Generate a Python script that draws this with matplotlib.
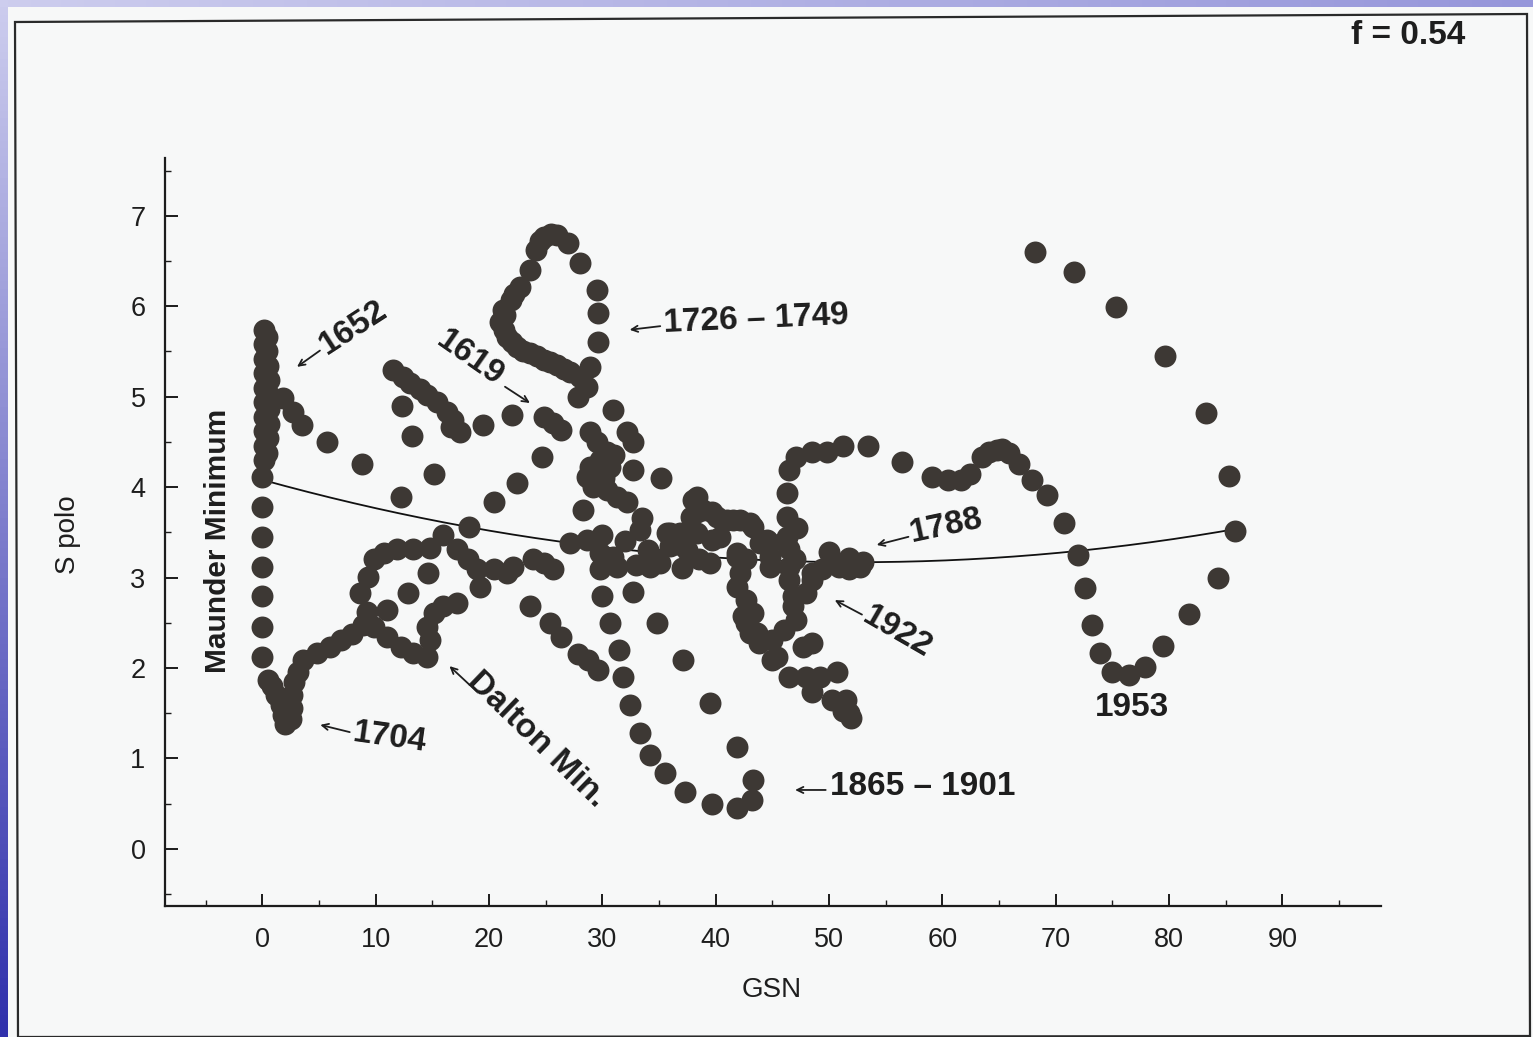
import numpy as np
import matplotlib
matplotlib.use("Agg")
import matplotlib.pyplot as plt
from matplotlib.patches import Rectangle, Polygon
from matplotlib.ticker import FixedLocator

plt.rcParams['font.family'] = ['Liberation Sans', 'DejaVu Sans']

# ---------------------------------------------------------------------------
# Data: group sunspot number (GSN) against polar field index (S polo)
# ---------------------------------------------------------------------------
maunder_gsn = [0.1, 0.4, 0.1, 0.4, 0.1, 0.5, 0.1, 0.6, 0.1, 0.6, 0.1, 0.6, 0.1, 0.6,
               0.1, 0.5, 0.1, 0.4, 0.1, 0.0, 0.0, 0.0, 0.0, 0.0, 0.0, 0.0, 0.5,
               0.8, 1.2, 1.6, 1.85, 2.0, 2.5, 2.65, 2.65, 2.75, 3.1,
               3.6, 4.85, 6.0, 6.9, 7.9, 8.9]
maunder_spolo = [5.74, 5.66, 5.58, 5.50, 5.42, 5.34, 5.26, 5.18, 5.10, 5.02, 4.94, 4.86, 4.78, 4.70,
                 4.62, 4.54, 4.46, 4.38, 4.30, 4.11, 3.78, 3.45, 3.12, 2.79, 2.45, 2.12, 1.87,
                 1.80, 1.70, 1.59, 1.48, 1.38, 1.43, 1.56, 1.70, 1.84, 1.96,
                 2.09, 2.17, 2.23, 2.31, 2.37, 2.48]

tail1652_gsn = [1.85, 2.7, 3.5, 5.7, 8.8]
tail1652_spolo = [4.99, 4.83, 4.69, 4.50, 4.25]

dalton_gsn = [9.25, 9.8, 11.0, 12.2, 13.3, 14.5, 14.8, 14.5, 15.1, 15.9, 17.2, 12.8, 14.6, 11.0,
              8.6, 9.3, 9.8, 10.7, 11.9, 13.3, 14.8, 15.9, 17.2, 18.1, 18.9, 19.2, 20.4, 21.6,
              22.1, 23.9, 23.6, 25.4, 26.3, 27.8, 28.7, 29.6]
dalton_spolo = [2.62, 2.45, 2.34, 2.23, 2.17, 2.12, 2.31, 2.45, 2.61, 2.68, 2.72, 2.83, 3.05, 2.64,
                2.83, 3.01, 3.20, 3.27, 3.31, 3.31, 3.33, 3.47, 3.31, 3.20, 3.09, 2.90, 3.09, 3.05,
                3.12, 3.20, 2.68, 2.50, 2.34, 2.15, 2.09, 1.98]

upper_gsn = [11.5, 12.4, 13.0, 13.9, 14.5, 15.4, 16.3, 16.8, 16.6, 17.4, 19.5, 22.0, 12.3, 13.2,
             15.1, 12.2, 18.2, 20.4, 22.5, 24.7, 24.8, 25.6, 26.3]
upper_spolo = [5.30, 5.22, 5.15, 5.08, 5.02, 4.94, 4.83, 4.74, 4.67, 4.61, 4.69, 4.80, 4.90, 4.56,
               4.14, 3.89, 3.56, 3.83, 4.05, 4.33, 4.77, 4.71, 4.63]

loop1726_gsn = [24.8, 25.5, 26.0, 27.0, 28.0, 29.5, 29.6, 29.6, 28.9, 28.0, 28.6, 27.8,
                24.5, 24.1, 23.6, 22.7, 22.2, 21.9, 21.2, 21.4, 21.0, 21.3, 21.6, 22.0,
                22.5, 23.0, 23.6, 24.2, 24.8, 25.4, 26.0, 26.6, 27.1]
loop1726_spolo = [6.77, 6.80, 6.79, 6.70, 6.48, 6.18, 5.93, 5.61, 5.33, 5.22, 5.11, 5.00,
                  6.72, 6.62, 6.40, 6.21, 6.14, 6.07, 5.96, 5.90, 5.83, 5.74, 5.66, 5.60,
                  5.55, 5.51, 5.48, 5.45, 5.41, 5.38, 5.35, 5.31, 5.27]

central_gsn = [30.9, 28.9, 32.2, 32.7, 30.4, 29.8, 28.9, 28.6, 29.2, 30.4, 31.3, 32.2, 30.7, 32.7,
               35.2, 28.3, 33.5, 33.3, 27.1, 28.6, 30.0, 29.8, 30.9, 29.8, 31.3, 33.0, 34.2, 35.1,
               35.7, 36.8, 38.3, 38.3, 39.7, 41.0, 42.1, 43.3, 38.3, 39.7, 40.4, 39.5, 41.9, 42.7,
               43.9, 44.8, 24.8, 25.6, 30.0, 32.7, 30.7, 34.8, 31.5, 31.8, 37.1, 39.5,
               29.5, 30.1, 31.0, 32.0, 34.0, 36.0, 37.5, 38.5, 37.0, 38.0, 38.9, 40.1, 41.5, 43.0,
               36.0, 34.8, 37.8, 41.9, 44.5, 44.8]
central_spolo = [4.85, 4.61, 4.61, 4.50, 4.39, 4.30, 4.22, 4.11, 4.00, 3.97, 3.89, 3.83, 4.22, 4.19,
                 4.10, 3.75, 3.66, 3.53, 3.38, 3.42, 3.47, 3.27, 3.23, 3.09, 3.12, 3.14, 3.12, 3.16,
                 3.49, 3.49, 3.89, 3.72, 3.72, 3.64, 3.64, 3.56, 3.49, 3.42, 3.45, 3.16, 3.27, 3.20,
                 3.38, 3.38, 3.16, 3.09, 2.79, 2.84, 2.50, 2.50, 2.20, 1.90, 2.09, 1.61,
                 4.50, 4.10, 4.35, 3.40, 3.30, 3.35, 3.30, 3.20, 3.10, 3.86, 3.75, 3.67, 3.64, 3.60,
                 3.49, 3.20, 3.67, 3.23, 3.42, 3.23]

cycle1865_gsn = [32.4, 33.3, 34.2, 35.5, 37.3, 39.7, 41.9, 43.2, 43.3, 41.9]
cycle1865_spolo = [1.59, 1.28, 1.04, 0.84, 0.63, 0.49, 0.45, 0.54, 0.76, 1.12]

cluster1922_gsn = [46.3, 46.3, 46.3, 46.5, 46.5, 46.5, 46.8, 47.2, 47.0,
                   44.8, 42.1, 41.9, 42.7, 43.3, 42.7, 43.6, 45.0, 45.0, 47.1, 46.8, 48.0,
                   48.5, 50.9, 52.1, 52.7, 47.7, 48.5, 46.5, 48.0, 49.2, 50.7, 48.5, 50.3,
                   51.5, 51.8, 51.9, 51.2, 50.0, 51.8, 53.0, 51.8, 49.4,
                   43.8, 45.4, 46.0, 48.5, 42.4, 43.0]
cluster1922_spolo = [3.94, 3.67, 3.45, 3.31, 3.12, 2.97, 2.79, 3.55, 3.20,
                     3.12, 3.05, 2.90, 2.75, 2.61, 2.50, 2.39, 2.31, 2.09, 2.53, 2.68, 2.83,
                     2.97, 3.12, 3.16, 3.12, 2.23, 2.28, 1.90, 1.90, 1.90, 1.95, 1.73, 1.65,
                     1.65, 1.50, 1.45, 1.52, 3.28, 3.22, 3.17, 3.09, 3.09,
                     2.28, 2.12, 2.42, 3.05, 2.57, 2.39]

modern_gsn = [46.5, 47.1, 48.5, 49.8, 51.2, 53.4, 56.4, 59.1, 60.5, 61.6, 62.4, 63.5, 64.1, 64.8,
              65.3, 65.9, 66.8, 67.9, 69.2, 70.7, 72.0, 72.6, 73.2, 73.9, 75.0, 76.5, 77.9, 79.5,
              81.8, 84.3, 85.8, 85.3, 83.3, 79.6, 75.3, 71.6, 68.2]
modern_spolo = [4.19, 4.33, 4.39, 4.39, 4.46, 4.45, 4.28, 4.11, 4.08, 4.08, 4.14, 4.33, 4.39, 4.41,
                4.42, 4.38, 4.25, 4.08, 3.91, 3.60, 3.25, 2.88, 2.48, 2.17, 1.96, 1.92, 2.01, 2.24,
                2.60, 3.00, 3.51, 4.12, 4.82, 5.45, 5.99, 6.38, 6.60]

# Quadratic regression of S polo on GSN (highest power first)
fit_coeffs = [0.00033, -0.03467, 4.08]
fit_gsn_range = (0.0, 85.8)
fit_label = "f = 0.54"

# Period labels: text, GSN, S polo, rotation
period_labels = [
    ("1652", 8.0, 5.76, 33),
    ("1619", 18.3, 5.43, -35),
    ("1726 \u2013 1749", 43.6, 5.85, 2.5),
    ("1788", 60.3, 3.57, 12),
    ("1922", 56.0, 2.39, -30),
    ("Dalton Min.", 24.2, 1.21, -44),
    ("1704", 11.2, 1.23, -8),
    ("1865 \u2013 1901", 58.3, 0.69, 0),
    ("1953", 76.7, 1.56, 0),
]
# Pointer arrows: (tail GSN, tail S), (head GSN, head S)
pointer_arrows = [
    ((5.07, 5.51), (3.05, 5.33)),
    ((21.4, 5.11), (23.6, 4.93)),
    ((35.1, 5.78), (32.4, 5.74)),
    ((57.0, 3.45), (54.2, 3.36)),
    ((52.9, 2.59), (50.5, 2.75)),
    ((18.3, 1.81), (16.5, 2.02)),
    ((7.7, 1.29), (5.1, 1.37)),
    ((49.7, 0.65), (47.0, 0.65)),
]

x_ticks = [0, 10, 20, 30, 40, 50, 60, 70, 80, 90]
y_ticks = [0, 1, 2, 3, 4, 5, 6, 7]
x_minor = [-5, 5, 15, 25, 35, 45, 55, 65, 75, 85, 95]
y_minor = [-0.5, 0.5, 1.5, 2.5, 3.5, 4.5, 5.5, 6.5, 7.5]

# ---------------------------------------------------------------------------
W, H = 1533, 1037
fig = plt.figure(figsize=(W / 100, H / 100), dpi=100)

# slide background with gradient and the scanned page on top
bg = fig.add_axes([0, 0, 1, 1], zorder=-10)
bg.set_axis_off()
u = np.linspace(0, 1, 200)[None, :, None]
v = np.linspace(0, 1, 140)[:, None, None]
tl = np.array([205, 205, 238]) / 255
tr = np.array([150, 150, 218]) / 255
bl = np.array([48, 48, 172]) / 255
br = np.array([70, 70, 185]) / 255
grad = tl * (1 - u) * (1 - v) + tr * u * (1 - v) + bl * (1 - u) * v + br * u * v
bg.imshow(grad, extent=[0, 1, 0, 1], aspect='auto', origin='upper')
bg.set_xlim(0, 1)
bg.set_ylim(0, 1)
bg.add_patch(Rectangle((8 / W, 0), 1 - 8 / W, 1 - 7 / H, facecolor='#f7f8f8',
                       edgecolor='none'))
frame = [(15 / W, 1 - 22 / H), (1527 / W, 1 - 14 / H), (1530 / W, 1 - 1036 / H),
         (18 / W, 1 - 1037 / H)]
bg.add_patch(Polygon(frame, closed=True, fill=False, edgecolor='#2a2a2a', lw=1.6))

ax = fig.add_axes([165 / W, 1 - 905.7 / H, (1381 - 165) / W, (905.7 - 158) / H])
ax.patch.set_visible(False)
ax.set_xlim(-8.6, 98.7)
ax.set_ylim(-0.63, 7.64)

for side in ('top', 'right'):
    ax.spines[side].set_visible(False)
for side in ('left', 'bottom'):
    ax.spines[side].set_linewidth(1.6)
    ax.spines[side].set_color('#1c1c1c')

ax.set_xticks(x_ticks)
ax.set_yticks(y_ticks)
ax.xaxis.set_minor_locator(FixedLocator(x_minor))
ax.yaxis.set_minor_locator(FixedLocator(y_minor))
ax.tick_params(which='major', direction='in', length=9, width=1.4, color='#1c1c1c',
               labelsize=19.5, labelcolor='#1e1e1e')
ax.tick_params(axis='x', which='major', pad=15)
ax.tick_params(axis='y', which='major', pad=14)
ax.tick_params(which='minor', direction='in', length=4, width=1.0, color='#1c1c1c')

# regression curve
fx = np.linspace(*fit_gsn_range, 300)
ax.plot(fx, np.polyval(fit_coeffs, fx), color='#111111', lw=1.3, zorder=2)

dot_color = '#3d3834'
groups = [(maunder_gsn, maunder_spolo), (tail1652_gsn, tail1652_spolo),
          (dalton_gsn, dalton_spolo), (upper_gsn, upper_spolo),
          (loop1726_gsn, loop1726_spolo), (central_gsn, central_spolo),
          (cycle1865_gsn, cycle1865_spolo), (cluster1922_gsn, cluster1922_spolo),
          (modern_gsn, modern_spolo)]
for gx, gy in groups:
    ax.plot(gx, gy, 'o', ms=15.8, color=dot_color, mew=0, zorder=3, clip_on=False)

for text, gx, gy, rot in period_labels:
    ax.text(gx, gy, text, rotation=rot, rotation_mode='anchor', ha='center', va='center',
            fontsize=24, fontweight='bold', color='#1e1e1e', zorder=4)

for (tx, ty), (hx, hy) in pointer_arrows:
    ax.annotate('', xy=(hx, hy), xytext=(tx, ty),
                arrowprops=dict(arrowstyle='->,head_length=0.45,head_width=0.22',
                                lw=1.3, color='#1e1e1e', shrinkA=0, shrinkB=0))

ax.text(-3.9, 3.41, "Maunder Minimum", rotation=90, ha='center', va='center',
        fontsize=21.5, fontweight='bold', color='#1e1e1e')

fig.text(772 / W, 1 - 990 / H, "GSN", ha='center', va='center', fontsize=20, color='#1e1e1e')
fig.text(68 / W, 1 - 535 / H, "S polo", ha='center', va='center', rotation=90,
         fontsize=20, color='#1e1e1e')
fig.text(1408 / W, 1 - 35 / H, fit_label, ha='center', va='center', fontsize=24,
         fontweight='bold', color='#1e1e1e')

fig.savefig("out.png", dpi=100)
